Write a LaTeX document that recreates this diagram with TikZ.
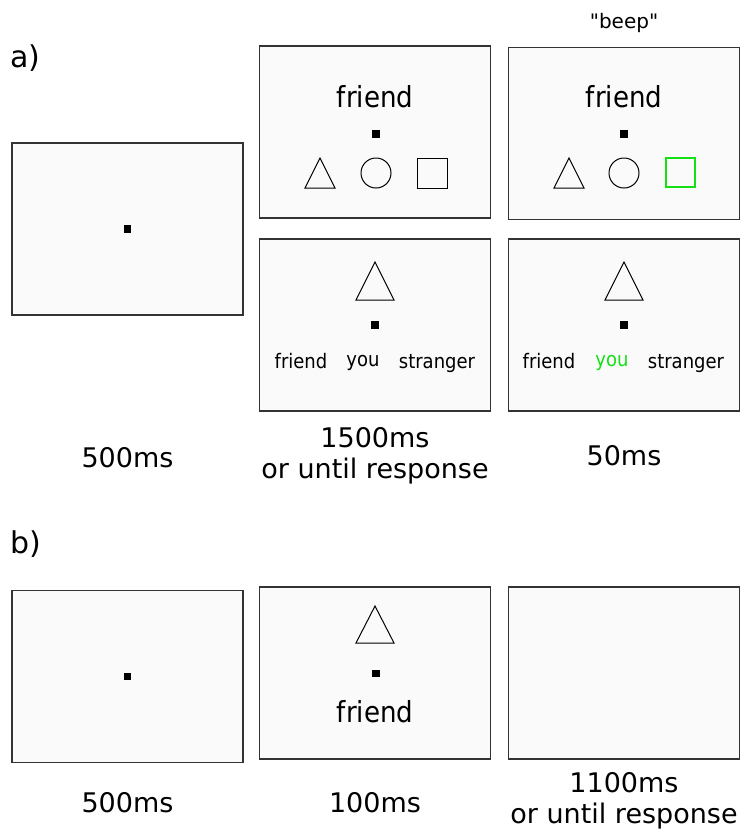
\documentclass[tikz,border=0pt]{standalone}
\usepackage{fontspec}
\setmainfont{DejaVu Sans}
% family without the TeX quote mapping, for straight quotation marks
\newfontfamily\plainquotes{DejaVu Sans}
% slightly narrower face for the words shown on the screens
\newfontfamily\screenfont{DejaVu Sans}[FakeStretch=0.9]
\usetikzlibrary{calc}
\definecolor{boxfill}{HTML}{FAFAFA}
\definecolor{boxline}{HTML}{333333}
\definecolor{cue}{RGB}{20,225,20}
\begin{document}
\begin{tikzpicture}[x=1pt,y=-1pt,
  screen/.style={draw=boxline, fill=boxfill, line width=1.3pt,
    minimum width=231pt, minimum height=172pt, inner sep=0pt},
  fixdot/.style={fill=black, minimum size=7.5pt, inner sep=0pt},
  bigword/.style={font=\screenfont\fontsize{29}{34}\selectfont, inner sep=0pt, anchor=base},
  smallword/.style={font=\screenfont\fontsize{20}{24}\selectfont, inner sep=0pt, anchor=base},
  timing/.style={font=\fontsize{27}{32}\selectfont, inner sep=0pt, anchor=base},
  panel/.style={font=\fontsize{30}{35}\selectfont, inner sep=0pt, anchor=base west},
  outline/.style={draw=black, line width=1pt}]
\useasboundingbox (0,0) rectangle (743,831);

% panel labels
\node[panel] (la) at (10,67) {a)};
\node[panel] (lb) at (10,553) {b)};

% ---------- panel a ----------
\node[screen] (a1) at (127.5,229) {};
\node[screen] (a2) at (375,132) {};
\node[screen] (a3) at (624,133.5) {};
\node[screen] (a4) at (375,325) {};
\node[screen] (a5) at (624,325) {};

% fixation screen
\node[fixdot] (a1dot) at (a1) {};

% word + three shapes
\node[bigword] (a2word) at ($(a2)+(0,-25)$) {friend};
\node[fixdot] (a2dot) at ($(a2)+(1,2)$) {};
\draw[outline] ($(a2)+(-70,56)$) -- ++(30,0) -- ++(-15,-30) -- cycle;
\draw[outline] ($(a2)+(1,41)$) circle (15);
\draw[outline] ($(a2)+(42,26)$) rectangle ++(30,30);

% same display with highlighted square
\node[font=\plainquotes\fontsize{20}{24}\selectfont, inner sep=0pt, anchor=base] (beep) at (624,28) {"beep"};
\node[bigword] (a3word) at ($(a3)+(0,-26.5)$) {friend};
\node[fixdot] (a3dot) at ($(a3)+(0,0.5)$) {};
\draw[outline] ($(a3)+(-70,54.5)$) -- ++(30,0) -- ++(-15,-30) -- cycle;
\draw[outline] ($(a3)+(0,39.5)$) circle (15);
\draw[outline, draw=cue, line width=1.3pt] ($(a3)+(42,24.5)$) rectangle ++(29,29);

% shape + three labels
\draw[outline] ($(a4)+(-19,-25)$) -- ++(38,0) -- ++(-19,-38) -- cycle;
\node[fixdot] (a4dot) at (a4) {};
\node[smallword] (a4f) at ($(a4)+(-74,43)$) {friend};
\node[smallword] (a4y) at ($(a4)+(-12,41)$) {you};
\node[smallword] (a4s) at ($(a4)+(62,43)$) {stranger};

% same display with highlighted label
\draw[outline] ($(a5)+(-19,-25)$) -- ++(38,0) -- ++(-19,-38) -- cycle;
\node[fixdot] (a5dot) at (a5) {};
\node[smallword] (a5f) at ($(a5)+(-75,43)$) {friend};
\node[smallword, text=cue] (a5y) at ($(a5)+(-12,41)$) {you};
\node[smallword] (a5s) at ($(a5)+(62,43)$) {stranger};

% durations
\node[timing] (ta1) at (127.5,467) {500ms};
\node[timing] (ta2) at (375,447) {1500ms};
\node[timing] (ta2b) at (375,478) {or until response};
\node[timing] (ta3) at (624,465) {50ms};

% ---------- panel b ----------
\node[screen] (b1) at (127.5,676.5) {};
\node[screen] (b2) at (375,673) {};
\node[screen] (b3) at (624,673) {};

\node[fixdot] (b1dot) at (b1) {};

\draw[outline] ($(b2)+(-19,-30)$) -- ++(38,0) -- ++(-19,-37) -- cycle;
\node[fixdot] (b2dot) at ($(b2)+(1,0.5)$) {};
\node[bigword] (b2word) at ($(b2)+(0,49)$) {friend};

\node[timing] (tb1) at (127.5,812) {500ms};
\node[timing] (tb2) at (375,812) {100ms};
\node[timing] (tb3) at (624,792) {1100ms};
\node[timing] (tb3b) at (624,823) {or until response};
\end{tikzpicture}
\end{document}
